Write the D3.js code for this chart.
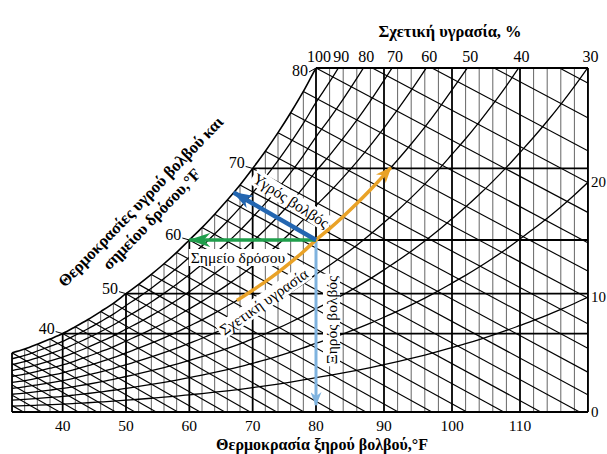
<!DOCTYPE html>
<html>
<head>
<meta charset="utf-8">
<script src="https://cdn.jsdelivr.net/npm/d3@7"></script>
<style>
  body { margin: 0; background: #fff; }
</style>
</head>
<body>
<svg id="chart" width="607" height="454" font-family="'Liberation Serif', 'Times New Roman', Tinos, 'DejaVu Serif', serif"></svg>
<script>
// dry-bulb grid (°F) and saturation vapour level (80°F dew point = 100)
const satTemps = [20,22,24,26,28,30,32,34,36,38,40,42,44,46,48,50,52,54,56,58,60,62,64,66,68,70,
  72,74,76,78,80,82,84,86,88,90,92,94,96,98,100,102,104,106,108,110,112,114,116,118,120];
const satVapour = [11.5,12.4,13.3,14.2,15.2,16.2,17.2,18.3,19.7,21.2,22.8,24.8,26.9,29.2,31.6,34.4,
  37.1,40.0,43.1,46.4,50.0,53.6,57.5,61.6,66.0,70.8,75.8,81.2,87.0,93.2,100,106.6,113.7,121.2,
  129.2,137.7,146.5,155.8,165.6,176.1,187.3,198.6,210.7,223.5,237.0,251.5,266.2,281.7,298.1,315.5,333.9];

const rhLevels = [10,20,30,40,50,60,70,80,90,100];
const rhTopLabels = [100,90,80,70,60,50,40,30];
const rhRightLabels = [20,10,0];
const dewPoints = [40,50,60,70,80];
const dbTicks = [40,50,60,70,80,90,100,110];
const wetBulbs = [20,22,24,26,28,30,32,34,36,38,40,42,44,46,48,50,52,54,56,58,60,62,64,66,68,70,
  72,74,76,78,80,82,84,86,88];
const wbSlope = 1.05;           // vapour units lost per °F along a wet-bulb line
const state = {db: 80, dp: 60, wb: 67, rh: 50};
const rhArrowRange = [67.5, 91];

const svg = d3.select("#chart");
const x = d3.scaleLinear().domain([32, 80, 120]).range([12, 316, 588]);
const y = d3.scaleLinear().domain([0, 100]).range([412, 68]);
const satAt = d3.scaleLinear().domain(satTemps).range(satVapour);
const tempAtSat = d3.scaleLinear().domain(satVapour).range(satTemps);

const chartTemps = satTemps.filter(t => t >= 32);

svg.append("defs").append("clipPath").attr("id", "area")
  .append("rect").attr("x", x(32)).attr("y", y(100)).attr("width", x(120) - x(32)).attr("height", y(0) - y(100));

const grid = svg.append("g").attr("clip-path", "url(#area)");

// dry-bulb verticals
grid.selectAll(".db").data(chartTemps).enter().append("line")
  .attr("x1", d => x(d)).attr("x2", d => x(d))
  .attr("y1", y(0)).attr("y2", d => y(Math.min(100, satAt(d))))
  .attr("stroke", d => d % 10 === 0 ? "#000" : "#666")
  .attr("stroke-width", d => d % 10 === 0 ? 1.8 : 1);

// dew-point horizontals
grid.selectAll(".dp").data(dewPoints.filter(d => d < 80)).enter().append("line")
  .attr("x1", d => x(d)).attr("x2", x(120))
  .attr("y1", d => y(satAt(d))).attr("y2", d => y(satAt(d)))
  .attr("stroke", "#000").attr("stroke-width", 1.8);

// wet-bulb lines
grid.selectAll(".wb").data(wetBulbs).enter().append("line")
  .attr("x1", d => x(d)).attr("y1", d => y(satAt(d)))
  .attr("x2", d => x(d + satAt(d) / wbSlope)).attr("y2", y(0))
  .attr("stroke", "#000").attr("stroke-width", 1.15);

// relative humidity curves
const rhLine = d3.line().x(d => x(d[0])).y(d => y(d[1])).curve(d3.curveMonotoneX);
grid.selectAll(".rh").data(rhLevels).enter().append("path")
  .attr("d", r => rhLine(chartTemps.map(t => [t, r / 100 * satAt(t)])))
  .attr("fill", "none").attr("stroke", "#000")
  .attr("stroke-width", r => r === 100 ? 1.6 : 1.3);

// frame
const frame = svg.append("g").attr("stroke", "#000").attr("stroke-width", 1.8);
frame.append("line").attr("x1", x(32)).attr("x2", x(120)).attr("y1", y(0)).attr("y2", y(0));
frame.append("line").attr("x1", x(120)).attr("x2", x(120)).attr("y1", y(0)).attr("y2", y(100));
frame.append("line").attr("x1", x(80)).attr("x2", x(120)).attr("y1", y(100)).attr("y2", y(100));
frame.append("line").attr("x1", x(32)).attr("x2", x(32)).attr("y1", y(0)).attr("y2", y(satAt(32)));

// tick labels
svg.selectAll(".xt").data(dbTicks).enter().append("text")
  .attr("x", d => x(d)).attr("y", 431).attr("text-anchor", "middle")
  .attr("font-size", 15.5).text(d => d);

svg.selectAll(".rht").data(rhTopLabels).enter().append("text")
  .attr("x", d => x(tempAtSat(100 * 100 / d)) + 3).attr("y", 62).attr("text-anchor", "middle")
  .attr("font-size", 16).text(d => d);

svg.selectAll(".rhr").data(rhRightLabels).enter().append("text")
  .attr("x", x(120) + 3).attr("y", d => y(d / 100 * satAt(120)) + 5)
  .attr("font-size", 15).text(d => d);

const dpl = svg.selectAll(".dpl").data(dewPoints).enter().append("g");
dpl.append("line")
  .attr("x1", d => x(d) - 7).attr("y1", d => y(Math.min(100, satAt(d))) + (d === 80 ? 4 : -2))
  .attr("x2", d => x(d)).attr("y2", d => y(Math.min(100, satAt(d))))
  .attr("stroke", "#000").attr("stroke-width", 1);
dpl.append("text")
  .attr("x", d => x(d) - 8).attr("y", d => y(Math.min(100, satAt(d))) + (d === 80 ? 8 : 0))
  .attr("text-anchor", "end").attr("font-size", 16).text(d => d);

// titles
svg.append("text").attr("x", 450).attr("y", 37).attr("text-anchor", "middle")
  .attr("font-size", 16.5).attr("font-weight", "bold").text("Σχετική υγρασία, %");
svg.append("text").attr("x", 322).attr("y", 450).attr("text-anchor", "middle")
  .attr("font-size", 16).attr("font-weight", "bold").text("Θερμοκρασία ξηρού βολβού,°F");
const yt = svg.append("g").attr("transform", "translate(141,202) rotate(-46)")
  .attr("font-size", 16.5).attr("font-weight", "bold").attr("text-anchor", "middle");
yt.append("text").attr("x", 0).attr("y", 5).text("Θερμοκρασίες υγρού βολβού και");
yt.append("text").attr("x", -5).attr("y", 25).text("σημείου δρόσου,°F");

// arrows
const defs = svg.select("defs");
function marker(id, color, len, wid) {
  defs.append("marker").attr("id", id).attr("markerUnits", "userSpaceOnUse")
    .attr("viewBox", `0 0 ${len} ${wid}`).attr("refX", len - 1).attr("refY", wid / 2)
    .attr("markerWidth", len).attr("markerHeight", wid).attr("orient", "auto")
    .append("path").attr("d", `M0,0L${len},${wid / 2}L0,${wid}L${len * 0.3},${wid / 2}Z`).attr("fill", color);
}
marker("mBlue", "#2366b1", 20, 14);
marker("mGreen", "#1f9e4b", 22, 14);
marker("mLight", "#7fb3df", 14, 11);
marker("mOrange", "#e9a227", 16, 13);

const sx = x(state.db), sy = y(satAt(state.dp));

// label with white box
function boxLabel(cx, cy, angle, txt) {
  const g = svg.append("g").attr("transform", `translate(${cx},${cy}) rotate(${angle})`);
  const t = g.append("text").attr("text-anchor", "middle").attr("y", 5).attr("font-size", 15.5).text(txt);
  const b = t.node().getBBox();
  g.insert("rect", "text").attr("x", b.x - 2).attr("y", b.y).attr("width", b.width + 4)
    .attr("height", b.height).attr("fill", "#fff");
}
boxLabel(291, 201, 33, "Υγρός βολβός");
boxLabel(238, 258, 0, "Σημείο δρόσου");
boxLabel(264, 302, -35, "Σχετική υγρασία");
boxLabel(332, 320, -90, "Ξηρός βολβός");

svg.append("line").attr("x1", sx).attr("y1", sy).attr("x2", sx).attr("y2", y(2))
  .attr("stroke", "#7fb3df").attr("stroke-width", 3).attr("marker-end", "url(#mLight)");

const orangeTemps = [rhArrowRange[0]].concat(chartTemps.filter(t => t > rhArrowRange[0] && t < rhArrowRange[1]), [rhArrowRange[1]]);
svg.append("path")
  .attr("d", rhLine(orangeTemps.map(t => [t, state.rh / 100 * satAt(t)])))
  .attr("fill", "none").attr("stroke", "#e9a227").attr("stroke-width", 3.5)
  .attr("marker-end", "url(#mOrange)");

svg.append("line").attr("x1", sx).attr("y1", sy).attr("x2", x(state.dp)).attr("y2", y(satAt(state.dp)))
  .attr("stroke", "#1f9e4b").attr("stroke-width", 3.5).attr("marker-end", "url(#mGreen)");

svg.append("line").attr("x1", sx).attr("y1", sy).attr("x2", x(state.wb)).attr("y2", y(satAt(state.wb)))
  .attr("stroke", "#2366b1").attr("stroke-width", 4.5).attr("marker-end", "url(#mBlue)");
</script>
</body>
</html>
